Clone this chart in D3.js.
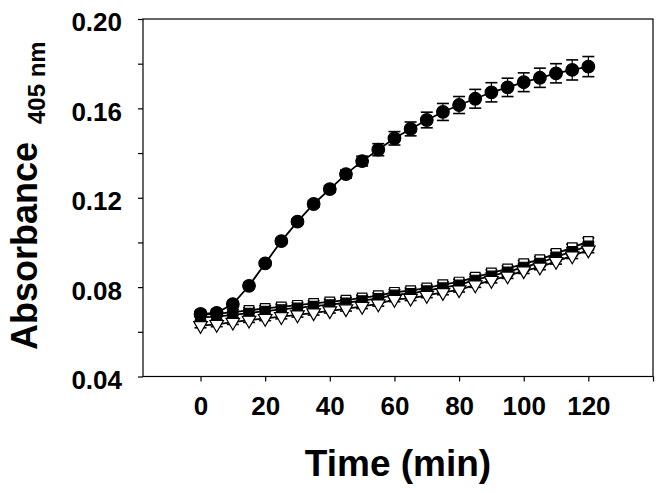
<!DOCTYPE html>
<html>
<head>
<meta charset="utf-8">
<script src="https://cdn.jsdelivr.net/npm/d3@7"></script>
<style>
  html, body { margin: 0; padding: 0; background: #fff; }
  svg { display: block; }
  text { font-family: "Liberation Sans", Arial, Helvetica, sans-serif; font-weight: bold; fill: #000; }
</style>
</head>
<body>
<svg id="chart" width="664" height="493"></svg>
<script>
// ---------- data ----------
const times = [0,5,10,15,20,25,30,35,40,45,50,55,60,65,70,75,80,85,90,95,100,105,110,115,120];

const seriesA = [0.0680,0.0685,0.0724,0.0806,0.0906,0.1006,0.1093,0.1172,0.1239,0.1306,0.1364,0.1415,0.1466,0.1508,0.1548,0.1584,0.1615,0.1643,0.1672,0.1694,0.1717,0.1737,0.1757,0.1772,0.1787];
const errA    = [0.0012,0.0012,0.0012,0.0012,0.0012,0.0012,0.0012,0.0013,0.0015,0.0018,0.0022,0.0027,0.0030,0.0031,0.0035,0.0038,0.0038,0.0042,0.0043,0.0041,0.0042,0.0043,0.0043,0.0045,0.0045];

const seriesB = [0.0677,0.0680,0.0688,0.0696,0.0705,0.0712,0.0719,0.0727,0.0734,0.0742,0.0752,0.0762,0.0777,0.0784,0.0797,0.0811,0.0823,0.0845,0.0864,0.0882,0.0905,0.0923,0.0951,0.0977,0.1005];
const errB    = [0.0012,0.0012,0.0012,0.0012,0.0012,0.0012,0.0012,0.0012,0.0012,0.0012,0.0012,0.0012,0.0012,0.0012,0.0012,0.0012,0.0012,0.0013,0.0013,0.0013,0.0014,0.0014,0.0014,0.0015,0.0015];

const seriesC = [0.0665,0.0668,0.0676,0.0684,0.0693,0.0700,0.0707,0.0715,0.0722,0.0730,0.0740,0.0750,0.0765,0.0772,0.0784,0.0798,0.0810,0.0832,0.0850,0.0868,0.0890,0.0908,0.0935,0.0960,0.0985];
const errC    = [0.0014,0.0014,0.0014,0.0014,0.0014,0.0014,0.0014,0.0014,0.0014,0.0014,0.0014,0.0014,0.0014,0.0014,0.0014,0.0014,0.0014,0.0015,0.0015,0.0015,0.0015,0.0015,0.0016,0.0016,0.0016];

const seriesD = [0.0628,0.0633,0.0643,0.0652,0.0660,0.0668,0.0676,0.0685,0.0694,0.0703,0.0714,0.0725,0.0745,0.0750,0.0763,0.0776,0.0788,0.0810,0.0830,0.0850,0.0873,0.0890,0.0915,0.0940,0.0966];
const errD    = [0.0010,0.0010,0.0010,0.0010,0.0010,0.0010,0.0010,0.0010,0.0010,0.0010,0.0010,0.0010,0.0010,0.0010,0.0010,0.0010,0.0010,0.0011,0.0011,0.0011,0.0012,0.0012,0.0012,0.0012,0.0012];

const xTicks = [0,20,40,60,80,100,120,140];
const xTickLabels = ["0","20","40","60","80","100","120",""];
const yTicks = [0.04,0.06,0.08,0.10,0.12,0.14,0.16,0.18,0.20];
const yTickLabels = ["0.04","","0.08","","0.12","","0.16","","0.20"];

const xTitle = "Time (min)";
const yTitle = "Absorbance";
const ySub = "405 nm";

// ---------- layout ----------
const svg = d3.select("#chart");
const L = 143, R = 653, T = 19, B = 376.5;
const x = d3.scaleLinear().domain([-17.8, 140]).range([L, R]);
const y = d3.scaleLinear().domain([0.04, 0.20]).range([B, T]);

// frame
svg.append("rect").attr("x", L).attr("y", T).attr("width", R - L).attr("height", B - T)
  .attr("fill", "none").attr("stroke", "#000").attr("stroke-width", 1.2);

// x axis
const xAxis = d3.axisBottom(x).tickValues(xTicks).tickSize(5).tickSizeOuter(0)
  .tickFormat((d, i) => xTickLabels[i]);
const gx = svg.append("g").attr("transform", `translate(0,${B})`).call(xAxis);
gx.select(".domain").remove();
gx.selectAll(".tick line").attr("stroke", "#000").attr("stroke-width", 1.2);
gx.selectAll(".tick text").attr("font-size", 26).attr("font-family", "Liberation Sans, Arial, sans-serif")
  .attr("font-weight", "bold").attr("fill", "#000").attr("y", 38).attr("dy", 0);

// y axis
const yAxis = d3.axisLeft(y).tickValues(yTicks).tickSize(5).tickSizeOuter(0)
  .tickFormat((d, i) => yTickLabels[i]);
const gy = svg.append("g").attr("transform", `translate(${L},0)`).call(yAxis);
gy.select(".domain").remove();
gy.selectAll(".tick line").attr("stroke", "#000").attr("stroke-width", 1.2);
gy.selectAll(".tick text").attr("font-size", 26).attr("font-family", "Liberation Sans, Arial, sans-serif")
  .attr("font-weight", "bold").attr("fill", "#000").attr("x", -21).attr("dy", "0.38em")
  .attr("transform", "translate(0,2)");

// titles
svg.append("text").attr("x", (L + R) / 2).attr("y", 476).attr("text-anchor", "middle")
  .attr("font-size", 37).text(xTitle);
svg.append("text").attr("transform", "translate(37,350) rotate(-90)").attr("text-anchor", "start")
  .attr("font-size", 36).text(yTitle);
svg.append("text").attr("transform", "translate(45,124) rotate(-90)").attr("text-anchor", "start")
  .attr("font-size", 24).text(ySub);

// ---------- series ----------
const line = d3.line().x(d => x(d.t)).y(d => y(d.v));

function pts(vals, errs) { return times.map((t, i) => ({ t, v: vals[i], e: errs[i] })); }

function drawSeries(data, shape, fill) {
  const g = svg.append("g");
  g.append("path").datum(data).attr("d", line).attr("fill", "none")
    .attr("stroke", "#000").attr("stroke-width", 1.8);
  const eb = g.selectAll(".eb").data(data).enter().append("g");
  eb.append("line").attr("x1", d => x(d.t)).attr("x2", d => x(d.t))
    .attr("y1", d => y(d.v + d.e)).attr("y2", d => y(d.v - d.e))
    .attr("stroke", "#000").attr("stroke-width", 1.2);
  eb.append("line").attr("x1", d => x(d.t) - 6).attr("x2", d => x(d.t) + 6)
    .attr("y1", d => y(d.v + d.e)).attr("y2", d => y(d.v + d.e))
    .attr("stroke", "#000").attr("stroke-width", 1.6);
  eb.append("line").attr("x1", d => x(d.t) - 6).attr("x2", d => x(d.t) + 6)
    .attr("y1", d => y(d.v - d.e)).attr("y2", d => y(d.v - d.e))
    .attr("stroke", "#000").attr("stroke-width", 1.6);
  const sym = d3.symbol().type(shape.type).size(shape.size);
  g.selectAll(".m").data(data).enter().append("path")
    .attr("d", sym)
    .attr("transform", d => `translate(${x(d.t)},${y(d.v)})${shape.rot ? " rotate(180)" : ""}`)
    .attr("fill", fill).attr("stroke", "#000").attr("stroke-width", 1.2);
}

drawSeries(pts(seriesB, errB), { type: d3.symbolSquare, size: 90 }, "#fff");
drawSeries(pts(seriesC, errC), { type: d3.symbolSquare, size: 90 }, "#000");
drawSeries(pts(seriesD, errD), { type: d3.symbolTriangle, size: 80, rot: true }, "#fff");
drawSeries(pts(seriesA, errA), { type: d3.symbolCircle, size: 125 }, "#000");
</script>
</body>
</html>
